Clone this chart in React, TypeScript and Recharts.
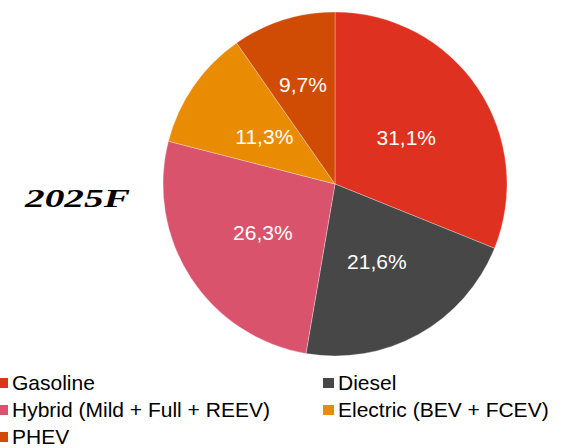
import React from 'react';
import { PieChart, Pie, Cell } from 'recharts';

const categories = ['Gasoline', 'Diesel', 'Hybrid (Mild + Full + REEV)', 'Electric (BEV + FCEV)', 'PHEV'];
const shares = [31.1, 21.6, 26.3, 11.3, 9.7];
const COLORS = ['#DF3120', '#474747', '#D9536D', '#EA8C03', '#D04B03'];

const data = categories.map((name, i) => ({ name, value: shares[i] }));

const RADIAN = Math.PI / 180;

const renderLabel = (props: any) => {
  const { cx, cy, midAngle, outerRadius, value } = props;
  // small slices get their label pushed outward a bit
  const r = outerRadius * (value < 10 ? 0.62 : 0.5);
  const x = cx + r * Math.cos(-midAngle * RADIAN);
  const y = cy + r * Math.sin(-midAngle * RADIAN) + 2;
  return (
    <text x={x} y={y} fill="#fff" textAnchor="middle" dominantBaseline="central"
      fontFamily="Liberation Sans, Arial, sans-serif" fontSize={21}>
      {value.toFixed(1).replace('.', ',')}%
    </text>
  );
};

// legend positions: two columns, order as in the original
const legendPos = [
  { left: -3, top: 372 },
  { left: 323, top: 372 },
  { left: -3, top: 399 },
  { left: 323, top: 399 },
  { left: -3, top: 426 },
];

export default function App() {
  return (
    <div style={{ position: 'absolute', left: 0, top: 0, width: 567, height: 448, background: '#fff', overflow: 'hidden' }}>
      <PieChart width={567} height={448} margin={{ top: 0, right: 0, bottom: 0, left: 0 }}>
        <Pie
          data={data}
          dataKey="value"
          cx={335}
          cy={184}
          outerRadius={172}
          startAngle={90}
          endAngle={-270}
          stroke="#fff"
          strokeWidth={0.6}
          strokeOpacity={0.5}
          label={renderLabel}
          labelLine={false}
          isAnimationActive={false}
        >
          {data.map((entry, index) => (
            <Cell key={`cell-${index}`} fill={COLORS[index]} />
          ))}
        </Pie>
      </PieChart>

      <svg width={160} height={60} style={{ position: 'absolute', left: 0, top: 170 }}>
        <text x={25} y={37} textLength={105} lengthAdjust="spacingAndGlyphs"
          fontFamily="Liberation Serif, serif" fontWeight="bold" fontStyle="italic" fontSize={25} fill="#000">
          2025F
        </text>
      </svg>

      {data.map((d, i) => (
        <div key={d.name} style={{
          position: 'absolute', left: legendPos[i].left, top: legendPos[i].top,
          display: 'flex', alignItems: 'center', fontFamily: 'Liberation Sans, Arial, sans-serif',
          fontSize: 21, lineHeight: '22px', color: '#000', whiteSpace: 'nowrap',
        }}>
          <span style={{ display: 'inline-block', width: 11, height: 10, background: COLORS[i], marginRight: 4 }} />
          {d.name}
        </div>
      ))}
    </div>
  );
}
